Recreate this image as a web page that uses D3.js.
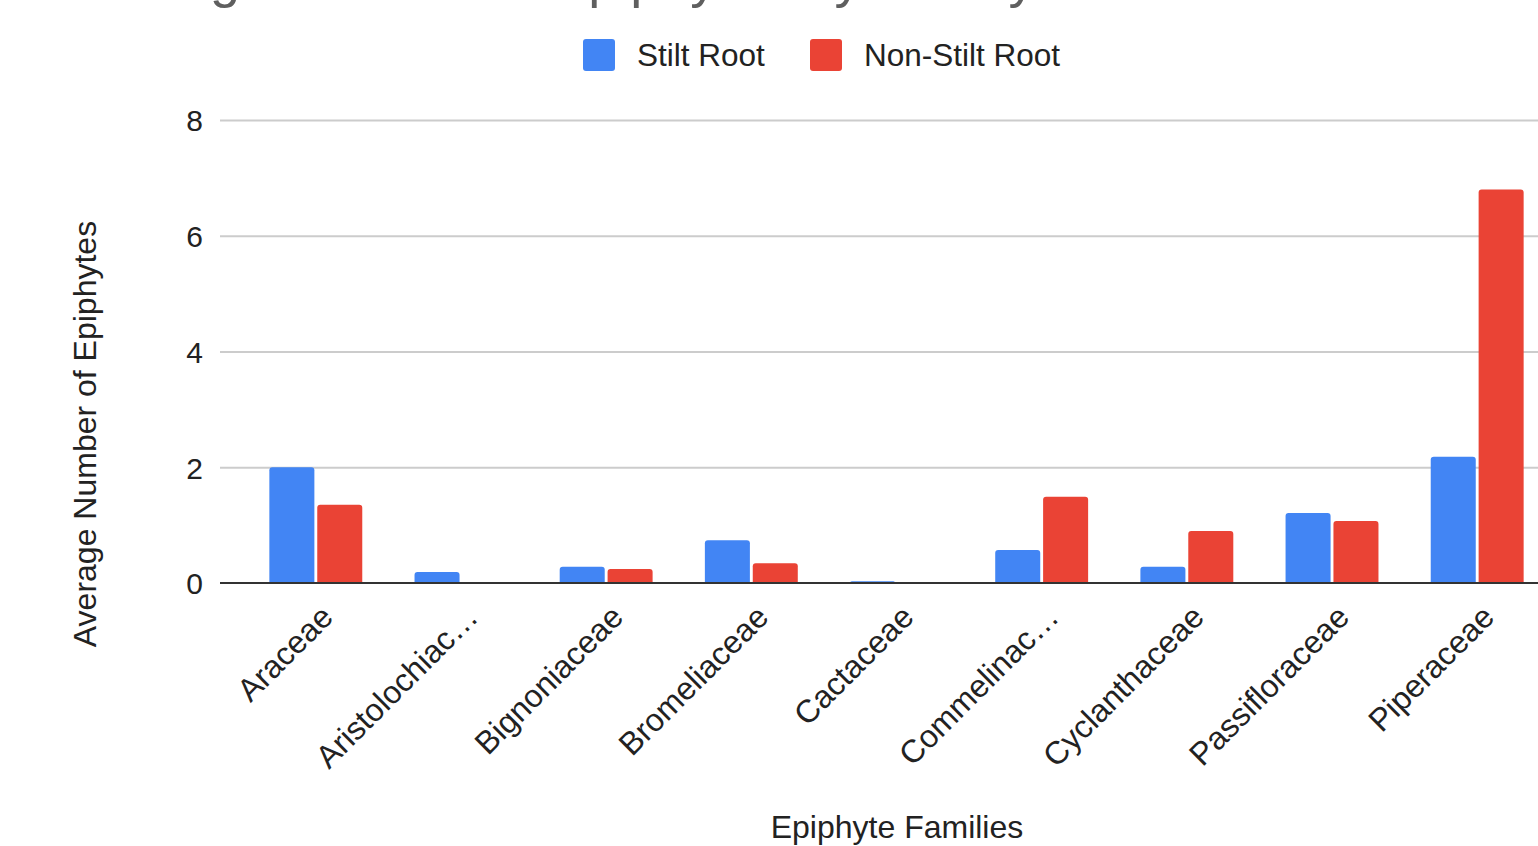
<!DOCTYPE html>
<html>
<head>
<meta charset="utf-8">
<script src="https://cdn.jsdelivr.net/npm/d3@7"></script>
<style>
  html, body { margin: 0; padding: 0; background: #fff; overflow: hidden; }
  svg { display: block; font-family: "Liberation Sans", Arial, sans-serif; }
</style>
</head>
<body>
<svg id="chart" width="1538" height="846"></svg>
<script>
// ---- Data ----
const titleText = "Average Number of Epiphytes by Family";
const categories = ["Araceae", "Aristolochiaceae", "Bignoniaceae", "Bromeliaceae", "Cactaceae",
                    "Commelinaceae", "Cyclanthaceae", "Passifloraceae", "Piperaceae"];
const tickLabels = ["Araceae", "Aristolochiac…", "Bignoniaceae", "Bromeliaceae", "Cactaceae",
                    "Commelinac…", "Cyclanthaceae", "Passifloraceae", "Piperaceae"];
const seriesNames = ["Stilt Root", "Non-Stilt Root"];
const stiltRoot    = [2.0, 0.19, 0.28, 0.74, 0.03, 0.57, 0.28, 1.21, 2.18];
const nonStiltRoot = [1.35, 0, 0.24, 0.34, 0, 1.49, 0.90, 1.07, 6.80];
const yTicks = [0, 2, 4, 6, 8];
const colors = ["#4285f4", "#ea4335"];
const yAxisTitle = "Average Number of Epiphytes";
const xAxisTitle = "Epiphyte Families";

// ---- Layout ----
const svg = d3.select("#chart");
const plotLeft = 220, plotRight = 1573, plotTop = 120, plotBottom = 583;

const x0 = d3.scaleBand().domain(categories).range([plotLeft, plotRight])
  .paddingInner(0.36).paddingOuter(0.34);
const x1 = d3.scaleBand().domain(seriesNames).range([0, x0.bandwidth()]).paddingInner(0.06);
const y = d3.scaleLinear().domain([0, 8]).range([plotBottom, plotTop]);

const rows = categories.map((c, i) => ({
  cat: c, label: tickLabels[i],
  vals: [stiltRoot[i], nonStiltRoot[i]]
}));

// Title (mostly cropped off the top edge, as in the reference)
svg.append("text")
  .attr("x", 70).attr("y", -3)
  .attr("font-size", 54).attr("fill", "#5f5f5f")
  .text(titleText);

// Legend
const legend = svg.append("g");
const legendItems = [
  { name: seriesNames[0], color: colors[0], x: 583 },
  { name: seriesNames[1], color: colors[1], x: 810 }
];
legendItems.forEach(d => {
  legend.append("rect").attr("x", d.x).attr("y", 39).attr("width", 32).attr("height", 32)
    .attr("rx", 3).attr("fill", d.color);
  legend.append("text").attr("x", d.x + 54).attr("y", 66)
    .attr("font-size", 31.5).attr("fill", "#222").text(d.name);
});

// Gridlines + y tick labels
const yAxis = d3.axisLeft(y).tickValues(yTicks).tickSize(0).tickPadding(0).tickFormat(d3.format("d"));
const yG = svg.append("g").attr("transform", `translate(${plotLeft},0)`).call(yAxis);
yG.select(".domain").remove();
yG.selectAll(".tick text").attr("x", -17).attr("dy", "0.36em")
  .attr("font-size", 30).attr("fill", "#222")
  .attr("font-family", "'Liberation Sans', Arial, sans-serif");
yG.selectAll(".tick").filter(d => d !== 0).append("line")
  .attr("x1", 0).attr("x2", 1538 - plotLeft)
  .attr("stroke", "#cccccc").attr("stroke-width", 2);

// Bars with rounded tops
function topRoundedRect(x, yTop, w, h, r) {
  r = Math.min(r, w / 2, h);
  if (h <= 0) return "";
  return `M${x},${yTop + h}V${yTop + r}Q${x},${yTop} ${x + r},${yTop}` +
         `H${x + w - r}Q${x + w},${yTop} ${x + w},${yTop + r}V${yTop + h}Z`;
}
const groups = svg.append("g").selectAll("g").data(rows).join("g")
  .attr("transform", d => `translate(${x0(d.cat)},0)`);
groups.selectAll("path").data(d => d.vals.map((v, i) => ({ v, s: seriesNames[i], c: colors[i] })))
  .join("path")
  .attr("fill", d => d.c)
  .attr("d", d => topRoundedRect(x1(d.s), y(d.v), x1.bandwidth(), y(0) - y(d.v), 3));

// Baseline
svg.append("line").attr("x1", plotLeft).attr("x2", 1538)
  .attr("y1", y(0)).attr("y2", y(0))
  .attr("stroke", "#333").attr("stroke-width", 2);

// X tick labels
const xAxis = d3.axisBottom(x0).tickSize(0).tickFormat((d, i) => tickLabels[i]);
const xG = svg.append("g").attr("transform", `translate(0,${plotBottom})`).call(xAxis);
xG.select(".domain").remove();
xG.selectAll(".tick text")
  .attr("font-size", 32).attr("fill", "#222")
  .attr("font-family", "'Liberation Sans', Arial, sans-serif")
  .attr("text-anchor", "end").attr("dy", 0).attr("y", 0)
  .attr("transform", "translate(19,36) rotate(-45)");

// Axis titles
svg.append("text")
  .attr("transform", `translate(96,434) rotate(-90)`)
  .attr("text-anchor", "middle").attr("font-size", 32).attr("fill", "#222")
  .text(yAxisTitle);
svg.append("text")
  .attr("x", 897).attr("y", 838).attr("text-anchor", "middle")
  .attr("font-size", 32).attr("fill", "#222")
  .text(xAxisTitle);
</script>
</body>
</html>
